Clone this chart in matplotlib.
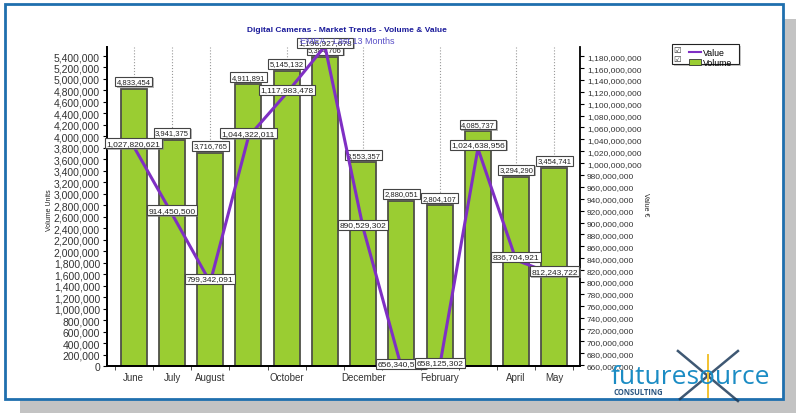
import matplotlib
matplotlib.use("Agg")
import matplotlib.pyplot as plt
import numpy as np
from matplotlib.patches import Rectangle, Patch
from matplotlib.lines import Line2D
from matplotlib.ticker import FuncFormatter, MultipleLocator
import matplotlib.patheffects as pe

# ===================================== data =====================================

months = ["June", "July", "August", "September", "October", "November",
          "December", "January", "February", "March", "April", "May"]

shown_months = ["June", "July", "August", "October", "December",
                "February", "April", "May"]

volume_units = [4833454, 3941375, 3716765, 4911891, 5145132, 5384706,
                3553357, 2880051, 2804107, 4085737, 3294290, 3454741]

value_eur = [1027820621, 914450500, 799342091, 1044322011, 1117983478, 1196927678,
             890529302, 656340512, 658125302, 1024638956, 836704921, 812243722]

title = "Digital Cameras - Market Trends - Volume & Value"
subtitle = "EMEA - Last 13 Months"

# ====================================================================================

plt.rcParams["font.family"] = ["Liberation Sans", "DejaVu Sans"]

W, H = 796, 414
fig = plt.figure(figsize=(W / 100, H / 100), dpi=100)
fig.patch.set_facecolor("white")


def fx(px):
    return px / W


def fy(py):
    return 1 - py / H


# frame with shadow
fig.add_artist(Rectangle((fx(20), 0), fx(776), 1 - 20 / H, transform=fig.transFigure,
                         facecolor="#c3c3c3", edgecolor="none", zorder=-10))
fig.add_artist(Rectangle((fx(5), fy(400)), fx(778), 395 / H, transform=fig.transFigure,
                         facecolor="white", edgecolor="#1f6fae", lw=2, zorder=-9))

ax = fig.add_axes([fx(107), fy(367), fx(580 - 107), (367 - 48) / H])
ax.set_facecolor("none")
ax2 = ax.twinx()

x = np.arange(len(months))

ax.bar(x, volume_units, width=0.68, color="#9acd32", edgecolor="#4f5048", lw=1.3, zorder=2)
ax.set_xlim(-0.7, len(months) - 0.33)
ax.set_ylim(0, 5557000)
ax2.set_ylim(658.5e6, 1195.5e6)

# x axis: labels only on some months, small ticks between the bars
label_pos = [months.index(m) for m in shown_months]
ax.set_xticks(label_pos)
ax.set_xticklabels(shown_months, fontsize=7, color="#333333")
ax.set_xticks(np.arange(len(months) + 1) - 0.5, minor=True)
ax.tick_params(axis="x", which="major", length=0, pad=4)
ax.tick_params(axis="x", which="minor", length=3, color="#333333")
ax.xaxis.grid(True, which="major", linestyle=":", color="#999999", lw=0.8)
ax.set_axisbelow(True)

fmt = FuncFormatter(lambda v, p: f"{v:,.0f}")
ax.yaxis.set_major_locator(MultipleLocator(200000))
ax.yaxis.set_major_formatter(fmt)
ax.tick_params(axis="y", labelsize=7.5, labelcolor="#333333", length=3, pad=2)
ax2.yaxis.set_major_locator(MultipleLocator(20e6))
ax2.yaxis.set_major_formatter(fmt)
ax2.tick_params(axis="y", labelsize=6, labelcolor="#333333", length=3, pad=2)

for a in (ax, ax2):
    a.spines["top"].set_visible(False)
    for s in ("left", "right", "bottom"):
        a.spines[s].set_linewidth(1.3)
        a.spines[s].set_color("black")
ax.spines["right"].set_visible(False)

box_style = dict(boxstyle="square,pad=0.18", fc="white", ec="#444444", lw=0.8)
shadow = [pe.SimplePatchShadow(offset=(1, -1), shadow_rgbFace="#888888", alpha=0.6),
          pe.Normal()]

# volume labels (under the line)
for xi, v in zip(x, volume_units):
    t = ax.annotate(f"{v:,}", (xi, v), xytext=(0, 2.5), textcoords="offset points",
                    ha="center", va="bottom", fontsize=5.5, color="#222222",
                    bbox=box_style, zorder=3)
    t.get_bbox_patch().set_path_effects(shadow)

# value line
ax2.plot(x, value_eur, color="#7f2fc4", lw=2.2, zorder=3, clip_on=False)

for xi, v in zip(x, value_eur):
    t = ax2.annotate(f"{v:,}", (xi, v), xytext=(0, 2.5), textcoords="offset points",
                     ha="center", va="center", fontsize=6, color="#222222",
                     bbox=box_style, zorder=4, annotation_clip=False)
    t.get_bbox_patch().set_path_effects(shadow)

# titles
fig.text(fx(347), fy(30), title, ha="center", va="center", fontsize=6,
         fontweight="bold", color="#1a1a9a")
fig.text(fx(347), fy(41.5), subtitle, ha="center", va="center", fontsize=6.5,
         color="#5a50c8", zorder=0)

fig.text(fx(50), fy(210), "Volume Units", rotation=90, ha="center", va="center",
         fontsize=5, color="#222222")
fig.text(fx(645), fy(205), "Value \u20ac", rotation=270, ha="center", va="center",
         fontsize=5, color="#222222")

# legend
fig.add_artist(Rectangle((fx(672), fy(65)), fx(67), 20 / H, transform=fig.transFigure,
                         facecolor="white", edgecolor="#222222", lw=0.8,
                         path_effects=[pe.SimplePatchShadow(offset=(1.5, -1.5)), pe.Normal()]))
handles = [Line2D([], [], color="#7f2fc4", lw=1.5),
           Patch(facecolor="#9acd32", edgecolor="#333333", lw=0.6)]
fig.legend(handles, ["Value", "Volume"], loc="upper left", frameon=False,
           bbox_to_anchor=(fx(683), fy(43)), fontsize=6.3, handlelength=1.3,
           handleheight=0.8, handletextpad=0.3, labelspacing=0.1, borderpad=0.2)
for py in (50, 59.5):
    fig.text(fx(677), fy(py), "\u2611", ha="center", va="center", fontsize=6,
             family="DejaVu Sans", color="#333333")

# futuresource logo, star centred on the "o"
logo = fig.text(fx(611), fy(384), "futuresource", ha="left", va="baseline", fontsize=19,
                family="Open Sans", color="#1b8cc4", zorder=5)
renderer = fig.canvas.get_renderer()
probe = fig.text(0, 0, "futures", fontsize=19, family="Open Sans")
w_pre = probe.get_window_extent(renderer).width
probe.set_text("futureso")
w_o = probe.get_window_extent(renderer).width
probe.remove()
cx, cy = 611 + (w_pre + w_o) / 2, 377
for (dx0, dy0, dx1, dy1) in [(-30, -25, 30, 25), (30, -25, -28, 23)]:
    fig.add_artist(Line2D([fx(cx + dx0), fx(cx + dx1)], [fy(cy + dy0), fy(cy + dy1)],
                          transform=fig.transFigure, color="#1d3b5a", lw=1.8, alpha=0.85))
fig.add_artist(Line2D([fx(cx), fx(cx)], [fy(cy - 21), fy(cy + 21)], transform=fig.transFigure,
                      color="#f2c230", lw=1.4))
fig.text(fx(613), fy(393), "CONSULTING", ha="left", va="center", fontsize=5.5,
         family="Open Sans", fontweight="bold", color="#2a5580", zorder=5)

fig.savefig("out.png", dpi=100)
